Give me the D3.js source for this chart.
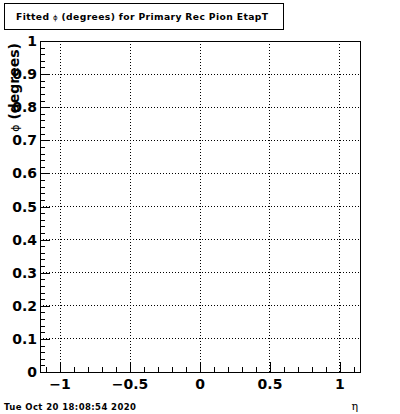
<!DOCTYPE html>
<html><head><meta charset="utf-8">
<script src="https://cdn.jsdelivr.net/npm/d3@7"></script>
<style>body{margin:0;background:#fff}</style>
</head><body>
<svg id="c" width="400" height="414"></svg>
<script>
const xDomain = [-1.143, 1.143];
const yDomain = [0, 1];
const xMajorTicks = [-1, -0.5, 0, 0.5, 1];
const xTickLabels = ["\u22121", "\u22120.5", "0", "0.5", "1"];
const yMajorTicks = [0, 0.1, 0.2, 0.3, 0.4, 0.5, 0.6, 0.7, 0.8, 0.9, 1];
const yTickLabels = ["0", "0.1", "0.2", "0.3", "0.4", "0.5", "0.6", "0.7", "0.8", "0.9", "1"];
const xMinorTicks = d3.range(-11, 12).map(i => i / 10);
const yMinorTicks = d3.range(0, 51).map(i => i / 50);
const titleParts = ["Fitted ", "\u03d5", " (degrees) for Primary Rec Pion EtapT"];
const dateText = "Tue Oct 20 18:08:54 2020";

const svg = d3.select("#c");
const x = d3.scaleLinear().domain(xDomain).range([40, 360]);
const y = d3.scaleLinear().domain(yDomain).range([372, 41]);
const font = "DejaVu Sans, sans-serif";

// grid
svg.append("g").selectAll("line").data(xMajorTicks).join("line")
  .attr("x1", d => x(d)).attr("x2", d => x(d)).attr("y1", y(0)).attr("y2", y(1))
  .attr("stroke", "#000").attr("stroke-width", 1).attr("stroke-dasharray", "1,2")
  .attr("shape-rendering", "crispEdges");
svg.append("g").selectAll("line").data(yMajorTicks.filter(d => d > 0 && d < 1)).join("line")
  .attr("x1", x(xDomain[0])).attr("x2", x(xDomain[1])).attr("y1", d => y(d)).attr("y2", d => y(d))
  .attr("stroke", "#000").attr("stroke-width", 1).attr("stroke-dasharray", "1,2")
  .attr("shape-rendering", "crispEdges");

// frame
svg.append("rect").attr("x", 40).attr("y", 41).attr("width", 320).attr("height", 331)
  .attr("fill", "none").attr("stroke", "#000").attr("stroke-width", 1).attr("shape-rendering", "crispEdges");

// axes with inward ticks
const xMinorAxis = d3.axisTop(x).tickValues(xMinorTicks).tickSize(5).tickFormat("");
const xMajorAxis = d3.axisTop(x).tickValues(xMajorTicks).tickSize(10).tickFormat("");
const yMinorAxis = d3.axisRight(y).tickValues(yMinorTicks).tickSize(5).tickFormat("");
const yMajorAxis = d3.axisRight(y).tickValues(yMajorTicks).tickSize(10).tickFormat("");
[xMinorAxis, xMajorAxis].forEach(a => {
  const g = svg.append("g").attr("transform", `translate(0,${y(0)})`).call(a);
  g.select(".domain").remove();
  g.selectAll("line").attr("shape-rendering", "crispEdges");
});
[yMinorAxis, yMajorAxis].forEach(a => {
  const g = svg.append("g").attr("transform", `translate(${x(xDomain[0])},0)`).call(a);
  g.select(".domain").remove();
  g.selectAll("line").attr("shape-rendering", "crispEdges");
});

// tick labels
svg.append("g").selectAll("text").data(xMajorTicks).join("text")
  .attr("x", d => x(d)).attr("y", 389).attr("text-anchor", "middle")
  .attr("font-family", font).attr("font-weight", "bold").attr("font-size", 14)
  .text((d, i) => xTickLabels[i]);
svg.append("g").selectAll("text").data(yMajorTicks).join("text")
  .attr("x", 37).attr("y", d => y(d) + 5).attr("text-anchor", "end")
  .attr("font-family", font).attr("font-weight", "bold").attr("font-size", 14)
  .text((d, i) => yTickLabels[i]);

// y title
const yt = svg.append("text").attr("transform", "translate(19,43) rotate(-90)")
  .attr("text-anchor", "end").attr("font-family", font).attr("font-weight", "bold").attr("font-size", 14);
yt.append("tspan").attr("font-size", 11).attr("font-weight", "normal").text("\u03d5");
yt.append("tspan").text(" (degrees)");

// x title
svg.append("text").attr("x", 358).attr("y", 410).attr("text-anchor", "end")
  .attr("font-family", "DejaVu Serif, serif").attr("font-size", 11).text("\u03b7");

// title box
svg.append("rect").attr("x", 4.5).attr("y", 3.5).attr("width", 279).attr("height", 26)
  .attr("fill", "#fff").attr("stroke", "#000").attr("stroke-width", 1);
const tt = svg.append("text").attr("x", 16).attr("y", 20)
  .attr("font-family", font).attr("font-weight", "bold").attr("font-size", 9.2)
  .attr("textLength", 252).attr("lengthAdjust", "spacing");
tt.append("tspan").text(titleParts[0]);
tt.append("tspan").attr("font-weight", "normal").attr("font-size", 7).text(titleParts[1]);
tt.append("tspan").text(titleParts[2]);

// date
svg.append("text").attr("x", 4).attr("y", 410)
  .attr("font-family", font).attr("font-weight", "bold").attr("font-size", 8.5)
  .attr("textLength", 132).attr("lengthAdjust", "spacing")
  .text(dateText);
</script>
</body></html>
